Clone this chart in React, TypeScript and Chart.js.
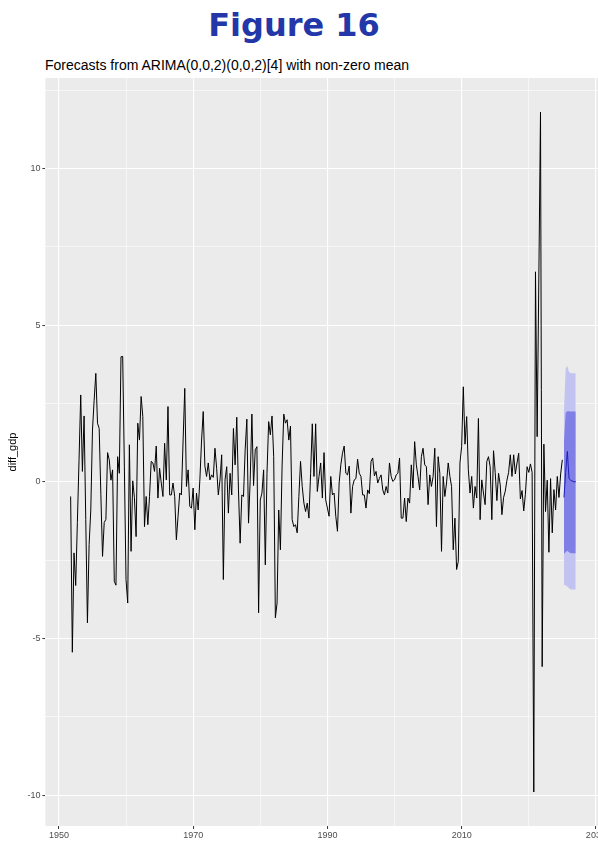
import React, { useEffect, useRef } from "react";
import { Chart, registerables } from "chart.js";

Chart.register(...registerables);

// Quarterly series starts at 1951 Q4
const START = 1951.75;

const diffGdp: number[] = [
  -0.47, -5.44, -2.27, -3.31, -1.3, 0.7, 2.77, 0.33, 2.1, -1.2,
  -4.5, -2.0, -0.9, 1.65, 2.6, 3.46, 1.87, 1.7, -0.4, -2.38,
  -1.3, -1.2, 0.93, 0.7, 0.05, 0.38, -3.18, -3.3, 0.8, 0.27,
  3.99, 4.0, 0.5, -3.12, -3.87, 1.18, -2.22, 0.03, -0.5, -1.75,
  1.87, 1.33, 2.72, 2.08, -1.43, -0.47, -1.37, -0.47, 0.65, 0.6,
  0.33, 1.14, -0.52, 0.43, -0.04, -0.47, 1.23, 0.06, 2.4, -0.42,
  -0.42, -0.04, -0.47, -1.85, -1.1, -0.36, -0.42, 1.3, 2.98, -0.15,
  0.38, -0.79, -0.84, -0.2, -1.53, -0.36, -0.9, 0.06, 1.3, 2.24,
  0.5, 0.17, 0.6, 0.06, 0.22, 0.14, 1.07, 0.43, -0.42, 0.06,
  0.86, -3.12, 0.06, 0.48, -1.0, 0.27, -0.42, 1.7, 0.54, 2.06,
  -0.26, -1.96, -0.42, -0.47, 1.02, 2.0, -1.32, 0.06, 2.16, -0.12,
  1.02, 1.12, -4.18, -0.58, -0.36, 0.38, -2.65, 0.27, 1.92, 1.5,
  2.1, 0.8, -4.34, -3.87, -0.9, -2.17, 0.5, 2.16, 1.87, 1.98,
  1.33, 1.78, -1.21, -1.43, -1.37, -1.63, -0.47, 0.65, -0.15, -0.68,
  -0.95, -0.68, -1.16, 0.27, 1.85, 0.17, 1.85, -0.31, 0.17, 0.6,
  -0.52, 0.93, -0.58, -0.84, -1.1, 0.17, -0.42, -0.36, -1.1, -1.58,
  -0.04, 0.54, 0.91, 1.14, 0.27, 0.22, 0.5, -1.0, -0.15, 0.06,
  0.1, 0.72, 0.27, 0.17, -0.42, -0.42, -0.84, -0.26, -0.38, 0.65,
  0.76, 0.19, 0.33, -0.04, 0.11, 0.22, -0.26, -0.42, -0.15, -0.36,
  0.6, 0.17, 0.01, 0.06, 0.22, 0.27, 0.76, -1.16, -1.16, -0.52,
  -1.27, -0.52, -0.68, 0.54, -0.2, 1.28, 0.54, 0.17, -0.26, 0.8,
  1.07, 0.54, 0.48, -0.73, 0.22, -0.15, 0.17, 1.07, -1.43, 0.8,
  0.27, -2.22, 0.17, -0.47, -0.04, 0.6, 0.17, -0.15, -2.17, -1.16,
  -2.8, -2.54, 0.6, 1.12, 3.03, 1.2, 2.08, 0.38, -0.36, 0.17,
  -0.84, -0.15, -0.52, 2.02, -1.21, 0.06, -0.36, -0.73, 0.65, 0.8,
  0.48, -1.21, 0.99, 0.3, -0.6, 0.27, -0.1, -1.05, -0.5, -0.3,
  0.05, 0.3, 0.86, 0.17, 0.86, 0.25, 0.6, 0.91, -0.55, -0.28,
  -0.93, -0.4, 0.48, 0.3, 0.57, 0.3, -9.9, 6.7, 1.44, 6.5,
  11.8, -5.9, 1.2, -0.95, 0.05, -2.25, 0.1, -1.63, -0.25, -0.9,
  0.17, -0.5, 0.25, 0.7,
];

// Forecast (8 quarters ahead)
const fcMean: number[] = [-0.5, 0.3, 0.97, 0.1, 0.05, 0.02, 0.0, 0.0];
const fcLo80: number[] = [-2.3, -2.25, -2.2, -2.25, -2.28, -2.28, -2.28, -2.28];
const fcHi80: number[] = [1.3, 2.2, 2.25, 2.25, 2.24, 2.24, 2.24, 2.24];
const fcLo95: number[] = [-3.3, -3.3, -3.35, -3.4, -3.44, -3.44, -3.44, -3.44];
const fcHi95: number[] = [2.3, 3.6, 3.7, 3.5, 3.46, 3.46, 3.46, 3.46];

const xTicks: number[] = [1950, 1960, 1970, 1980, 1990, 2000, 2010, 2020, 2030];
const xLabelled: number[] = [1950, 1970, 1990, 2010, 2030];
const yTicks: number[] = [-10, -7.5, -5, -2.5, 0, 2.5, 5, 7.5, 10, 12.5];
const yLabelled: number[] = [-10, -5, 0, 5, 10];

const TITLE = "Figure 16";
const SUBTITLE = "Forecasts from ARIMA(0,0,2)(0,0,2)[4] with non-zero mean";
const Y_TITLE = "diff_gdp";

export default function App() {
  const canvasRef = useRef<HTMLCanvasElement | null>(null);

  useEffect(() => {
    document.body.style.margin = "0";
    const canvas = canvasRef.current;
    if (!canvas) return;

    const n = diffGdp.length;
    const obs = diffGdp.map((v, i) => ({ x: START + i / 4, y: v }));
    const fx = (j: number) => START + (n + j) / 4;
    const mk = (arr: number[]) => arr.map((v, j) => ({ x: fx(j), y: v }));

    const allY = [...diffGdp, ...fcLo95, ...fcHi95];
    const yMinD = Math.min(...allY);
    const yMaxD = Math.max(...allY);
    const yPad = (yMaxD - yMinD) * 0.05;
    const xMinD = START;
    const xMaxD = fx(fcMean.length - 1);
    const xPad = (xMaxD - xMinD) * 0.05;

    const bgPlugin = {
      id: "panelBg",
      beforeDraw(chart: any) {
        const { ctx, chartArea } = chart;
        if (!chartArea) return;
        ctx.save();
        ctx.fillStyle = "#EBEBEB";
        ctx.fillRect(
          chartArea.left,
          chartArea.top,
          chartArea.right - chartArea.left,
          chartArea.bottom - chartArea.top
        );
        ctx.restore();
      },
    };

    const tickFont = { family: "'Liberation Sans', Arial, sans-serif", size: 9 };

    const chart = new Chart(canvas, {
      type: "line",
      data: {
        datasets: [
          {
            label: "hi95",
            data: mk(fcHi95),
            borderWidth: 0,
            pointRadius: 0,
            backgroundColor: "#C3C3F1",
            fill: "+1",
            order: 5,
          },
          {
            label: "lo95",
            data: mk(fcLo95),
            borderWidth: 0,
            pointRadius: 0,
            fill: false,
            order: 5,
          },
          {
            label: "hi80",
            data: mk(fcHi80),
            borderWidth: 0,
            pointRadius: 0,
            backgroundColor: "#7F7FE6",
            fill: "+1",
            order: 4,
          },
          {
            label: "lo80",
            data: mk(fcLo80),
            borderWidth: 0,
            pointRadius: 0,
            fill: false,
            order: 4,
          },
          {
            label: "mean",
            data: mk(fcMean),
            borderColor: "#1F1FB8",
            borderWidth: 1,
            pointRadius: 0,
            fill: false,
            order: 1,
          },
          {
            label: "diff_gdp",
            data: obs,
            borderColor: "#000000",
            borderWidth: 1,
            pointRadius: 0,
            fill: false,
            order: 0,
          },
        ],
      },
      options: {
        animation: false,
        responsive: false,
        devicePixelRatio: 1,
        layout: { autoPadding: false, padding: { top: 8, right: 0, bottom: 0, left: 0 } },
        plugins: {
          legend: { display: false },
          tooltip: { enabled: false },
          title: { display: false },
        },
        elements: { line: { tension: 0 } },
        scales: {
          x: {
            type: "linear",
            min: xMinD - xPad,
            max: xMaxD + xPad,
            border: { display: false },
            afterBuildTicks: (scale: any) => {
              scale.ticks = xTicks.map((v) => ({ value: v }));
            },
            afterFit: (scale: any) => {
              scale.height = 16;
              scale.paddingLeft = 0;
              scale.paddingRight = 0;
            },
            grid: {
              color: "#FFFFFF",
              lineWidth: (ctx: any) =>
                ctx.tick && xLabelled.includes(ctx.tick.value) ? 1.1 : 0.55,
              tickColor: (ctx: any) =>
                ctx.tick && xLabelled.includes(ctx.tick.value) ? "#333333" : "rgba(0,0,0,0)",
              tickLength: 3,
              tickWidth: 1,
            },
            ticks: {
              autoSkip: false,
              maxRotation: 0,
              padding: 1,
              color: "#4D4D4D",
              font: tickFont,
              callback: (v: any) => (xLabelled.includes(Number(v)) ? String(v) : ""),
            },
          },
          y: {
            type: "linear",
            min: yMinD - yPad,
            max: yMaxD + yPad,
            border: { display: false },
            afterBuildTicks: (scale: any) => {
              scale.ticks = yTicks.map((v) => ({ value: v }));
            },
            afterFit: (scale: any) => {
              scale.width = 45.4;
              scale.paddingTop = 0;
              scale.paddingBottom = 0;
            },
            grid: {
              color: "#FFFFFF",
              lineWidth: (ctx: any) =>
                ctx.tick && yLabelled.includes(ctx.tick.value) ? 1.1 : 0.55,
              tickColor: (ctx: any) =>
                ctx.tick && yLabelled.includes(ctx.tick.value) ? "#333333" : "rgba(0,0,0,0)",
              tickLength: 3,
              tickWidth: 1,
            },
            ticks: {
              autoSkip: false,
              padding: 2,
              color: "#4D4D4D",
              font: tickFont,
              callback: (v: any) => (yLabelled.includes(Number(v)) ? String(v) : ""),
            },
            title: {
              display: true,
              text: Y_TITLE,
              color: "#000000",
              font: { family: "'Liberation Sans', Arial, sans-serif", size: 11 },
              padding: { top: 6, bottom: 0 },
            },
          },
        },
      },
      plugins: [bgPlugin],
    } as any);

    return () => chart.destroy();
  }, []);

  return (
    <div
      style={{
        position: "relative",
        width: 598,
        height: 842,
        overflow: "hidden",
        background: "#FFFFFF",
      }}
    >
      <div
        style={{
          position: "absolute",
          left: -5,
          top: 6,
          width: 598,
          textAlign: "center",
          fontFamily: "'DejaVu Sans', sans-serif",
          fontWeight: "bold",
          fontSize: 32,
          lineHeight: "38px",
          color: "#2337A9",
        }}
      >
        {TITLE}
      </div>
      <div
        style={{
          position: "absolute",
          left: 45,
          top: 57,
          fontFamily: "'Liberation Sans', Arial, sans-serif",
          fontSize: 14,
          lineHeight: "16px",
          color: "#000000",
          whiteSpace: "nowrap",
        }}
      >
        {SUBTITLE}
      </div>
      <canvas
        ref={canvasRef}
        width={601}
        height={772}
        style={{ position: "absolute", left: 0, top: 70, width: 601, height: 772 }}
      />
    </div>
  );
}
